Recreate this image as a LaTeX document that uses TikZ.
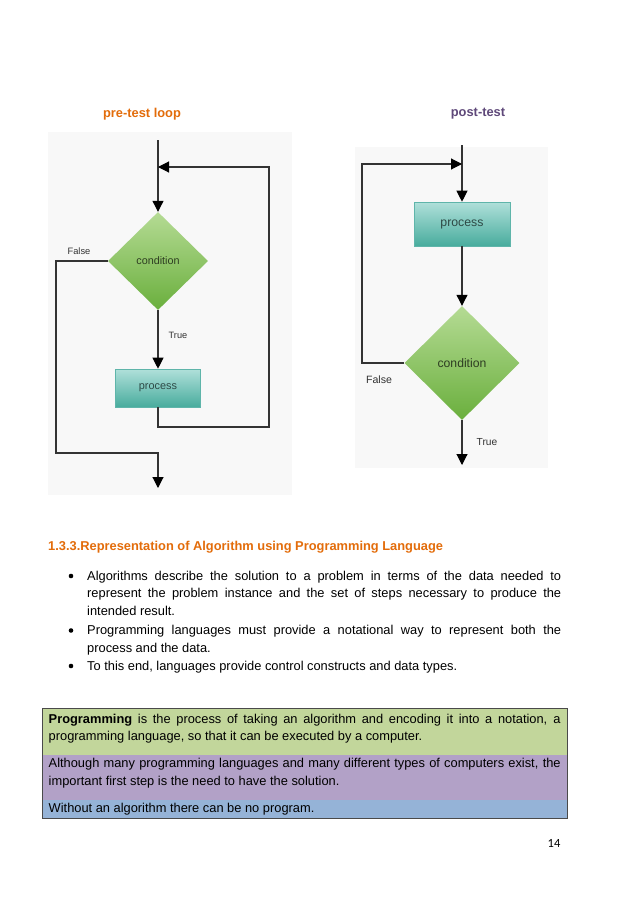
\documentclass[tikz,border=0pt]{standalone}
\usepackage{fontspec}
\setmainfont{Liberation Sans}
\newfontfamily\pagefont{Carlito}
\usetikzlibrary{shapes.geometric,arrows.meta}
\definecolor{headorange}{HTML}{E36C0A}
\definecolor{postpurple}{HTML}{5F497A}
\definecolor{chartbg}{HTML}{F8F8F8}
\definecolor{linegray}{HTML}{333333}
\definecolor{diatop}{HTML}{B5DB94}
\definecolor{diabot}{HTML}{6AAF3D}
\definecolor{proctop}{HTML}{B0E0DA}
\definecolor{procbot}{HTML}{48AC9D}
\definecolor{procedge}{HTML}{5FB5AA}
\definecolor{diatext}{HTML}{2E3D22}
\definecolor{proctext}{HTML}{2E4A46}
\definecolor{labeltext}{HTML}{333333}
\definecolor{bandgreen}{HTML}{C2D69B}
\definecolor{bandpurple}{HTML}{B2A1C7}
\definecolor{bandblue}{HTML}{95B3D7}
\definecolor{boxedge}{HTML}{4A4A4A}
\tikzset{
  flowline/.style={draw=linegray, line width=1.1pt},
  flowarrow/.style={flowline, -{Triangle[width=11pt,length=11pt,fill=black,color=black]}},
  dia/.style={diamond, aspect=1, inner sep=0pt, draw=none, top color=diatop, bottom color=diabot, text=diatext},
  procbox/.style={rectangle, inner sep=0pt, draw=procedge, line width=0.6pt, top color=proctop, bottom color=procbot, text=proctext},
  lbl/.style={inner sep=0pt, text=labeltext},
  title/.style={inner sep=0pt, anchor=base, font=\fontsize{12.85}{15}\selectfont\bfseries},
  para/.style={inner sep=0pt, align=justify, anchor=base west, font=\fontsize{12.85}{17.9}\selectfont},
  bul/.style={circle, fill=black, inner sep=0pt, minimum size=4.6pt}
}
\begin{document}
\begin{tikzpicture}[x=1pt,y=-1pt]
\useasboundingbox (0,0) rectangle (638,902);
\fill[white] (0,0) rectangle (638,902);

% titles
\node[title, text=headorange] (t1) at (142,117.5) {pre-test loop};
\node[title, text=postpurple] (t2) at (478,116.5) {post-test};

% ---------- left chart: pre-test loop ----------
\fill[chartbg] (48,132) rectangle (292,495);
\node[dia, minimum width=100pt, minimum height=98pt, font=\fontsize{10.8}{12}\selectfont] (ld) at (158,261) {condition};
\node[procbox, minimum width=85pt, minimum height=38pt, font=\fontsize{10.9}{12}\selectfont] (lp) at (158,388) {process};
\coordinate (ltop) at (158,140);
\coordinate (lj) at (158,167);
\coordinate (lc1) at (269,427);
\coordinate (lf1) at (56,453);
\coordinate (lend) at (158,488);
\draw[flowarrow] (ltop) -- (ld.north);
\draw[flowarrow] (lp.south) |- (lc1) |- (lj);
\draw[flowarrow] (ld.south) -- (lp.north);
\draw[flowarrow] (ld.west) -| (lf1) -| (lend);
\node[lbl, font=\fontsize{9.3}{11}\selectfont] (lfalse) at (79,251) {False};
\node[lbl, font=\fontsize{9.2}{11}\selectfont] (ltrue) at (178,335) {True};

% ---------- right chart: post-test loop ----------
\fill[chartbg] (355,147) rectangle (548,468);
\node[procbox, minimum width=96pt, minimum height=44pt, font=\fontsize{12.3}{14}\selectfont] (rp) at (462,224) {process};
\node[dia, minimum width=115pt, minimum height=114pt, font=\fontsize{12.2}{14}\selectfont] (rd) at (462,363) {condition};
\coordinate (rtop) at (462,145);
\coordinate (rj) at (462,164);
\coordinate (rf1) at (362,164);
\coordinate (rend) at (462,465);
\draw[flowarrow] (rtop) -- (rp.north);
\draw[flowarrow] (rp.south) -- (rd.north);
\draw[flowarrow] (rd.west) -| (rf1) -- (rj);
\draw[flowarrow] (rd.south) -- (rend);
\node[lbl, font=\fontsize{10.6}{12}\selectfont] (rfalse) at (379,380) {False};
\node[lbl, font=\fontsize{10.2}{12}\selectfont] (rtrue) at (487,442) {True};

% ---------- section text ----------
\node[inner sep=0pt, anchor=base west, text=headorange, font=\fontsize{12.85}{15}\selectfont\bfseries] (head) at (48,550) {1.3.3.Representation of Algorithm using Programming Language};

\node[bul] (d1) at (71,576) {};
\node[para, text width=474pt] (b1) at (87,580) {Algorithms describe the solution to a problem in terms of the data needed to\linebreak represent the problem instance and the set of steps necessary to produce the\linebreak intended result.};
\node[bul] (d2) at (71,630.5) {};
\node[para, text width=474pt] (b2) at (87,634.5) {Programming languages must provide a notational way to represent both the\linebreak process and the data.};
\node[bul] (d3) at (71,666) {};
\node[para, text width=474pt] (b3) at (87,670) {To this end, languages provide control constructs and data types.};

% ---------- coloured box ----------
\fill[bandgreen] (42,708) rectangle (567,755);
\fill[bandpurple] (42,755) rectangle (567,800);
\fill[bandblue] (42,800) rectangle (567,818);
\draw[boxedge, line width=1pt] (42,708) rectangle (567,818);
\node[para, text width=512pt] (p1) at (48.5,723) {\textbf{Programming} is the process of taking an algorithm and encoding it into a notation, a\linebreak programming language, so that it can be executed by a computer.};
\node[para, text width=512pt] (p2) at (48.5,767.5) {Although many programming languages and many different types of computers exist, the\linebreak important first step is the need to have the solution.};
\node[para, text width=512pt] (p3) at (48.5,812.5) {Without an algorithm there can be no program.};

% page number
\node[inner sep=0pt, font=\pagefont\fontsize{12.5}{14}\selectfont] (pg) at (554,843) {14};
\end{tikzpicture}
\end{document}
